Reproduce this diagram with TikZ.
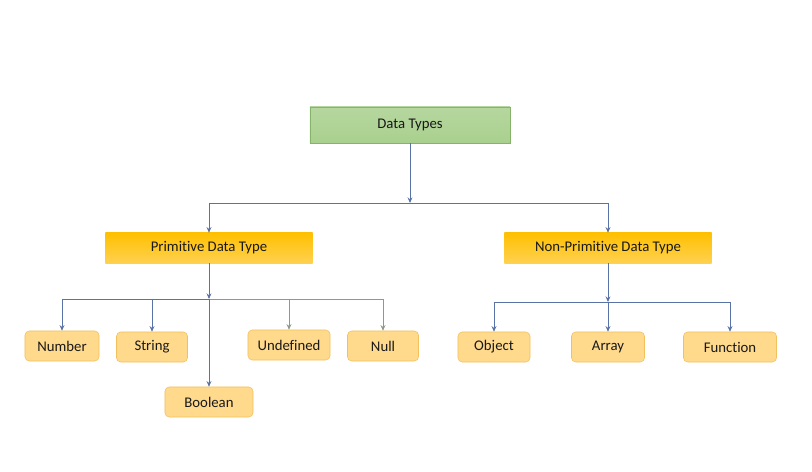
\documentclass[tikz,border=0pt]{standalone}
\usepackage{fontspec}
\setmainfont[Ligatures={NoCommon}]{Carlito}
\usetikzlibrary{arrows.meta}
\definecolor{linkblue}{HTML}{5A73A6}
\definecolor{linkgrey}{HTML}{8C9A86}
\definecolor{rootfill}{HTML}{A9D08E}
\definecolor{rootline}{HTML}{86B36A}
\definecolor{groupfill}{HTML}{FFC000}
\definecolor{grouplow}{HTML}{FFD150}
\definecolor{leaffill}{HTML}{FFD98C}
\definecolor{leafline}{HTML}{F3C05E}
\begin{document}
\begin{tikzpicture}[x=0.025cm,y=-0.025cm,
    rootbox/.style={draw=rootline,top color=rootfill!85!white,bottom color=rootfill,
      minimum width=5cm,minimum height=0.9cm,font=\fontsize{10.5}{12}\selectfont,text=black!90},
    groupbox/.style={top color=groupfill,bottom color=grouplow,
      minimum width=5.175cm,minimum height=0.75cm,font=\fontsize{10.5}{12}\selectfont,text=black!90},
    leafbox/.style={draw=leafline,fill=leaffill,rounded corners=3pt,
      minimum height=0.75cm,font=\fontsize{10.5}{12}\selectfont,text=black!90},
    link/.style={draw=linkblue,line width=0.6pt},
    tip/.style={-{Stealth[length=4pt,width=3.5pt]}}]
  \useasboundingbox (0,0) rectangle (812,472);
  % root and groups
  \node[rootbox] (types) at (410,125) {Data Types};
  \node[groupbox] (prim) at (209,248) {Primitive Data Type};
  \node[groupbox] (nonprim) at (608,248) {Non-Primitive Data Type};
  % leaves
  \node[leafbox,minimum width=1.85cm] (number) at (62,346) {Number};
  \node[leafbox,minimum width=1.775cm] (string) at (152,347) {String};
  \node[leafbox,minimum width=2.05cm] (undef) at (289,345) {Undefined};
  \node[leafbox,minimum width=1.775cm] (null) at (383,346) {Null};
  \node[leafbox,minimum width=2.2cm] (bool) at (209,402) {Boolean};
  \node[leafbox,minimum width=1.8cm] (object) at (494,347) {Object};
  \node[leafbox,minimum width=1.825cm] (array) at (608,347) {Array};
  \node[leafbox,minimum width=2.325cm] (func) at (730,347) {Function};
  % junctions
  \coordinate (j1) at (410,203);
  \coordinate (j2) at (209,299);
  \coordinate (j3) at (608,302);
  % root to groups
  \draw[link,tip] (types) -- (j1);
  \draw[link] (j1 -| prim) -- (j1 -| nonprim);
  \draw[link,tip] (j1 -| prim) -- (prim);
  \draw[link,tip] (j1 -| nonprim) -- (nonprim);
  % primitive branch
  \draw[link,tip] (prim) -- (j2);
  \draw[link] (j2 -| number) -- (j2);
  \draw[link,draw=linkgrey] (j2) -- (j2 -| null);
  \draw[link,tip] (j2 -| number) -- (number);
  \draw[link,tip] (j2 -| string) -- (string);
  \draw[link,tip] (j2) -- (bool);
  \draw[link,draw=linkgrey,tip] (j2 -| undef) -- (undef);
  \draw[link,draw=linkgrey,tip] (j2 -| null) -- (null);
  % non-primitive branch
  \draw[link,tip] (nonprim) -- (j3);
  \draw[link] (j3 -| object) -- (j3 -| func);
  \draw[link,tip] (j3 -| object) -- (object);
  \draw[link,tip] (j3) -- (array);
  \draw[link,tip] (j3 -| func) -- (func);
\end{tikzpicture}
\end{document}
